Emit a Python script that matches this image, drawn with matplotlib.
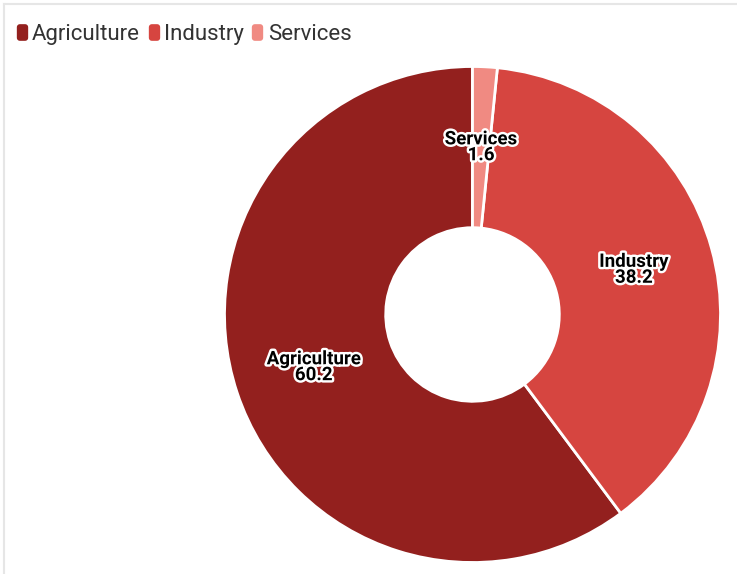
import numpy as np
import matplotlib.pyplot as plt
import matplotlib.patheffects as pe
from matplotlib.lines import Line2D
from matplotlib.path import Path

sectors = ["Agriculture", "Industry", "Services"]
shares = [60.2, 38.2, 1.6]
colors = ["#93201e", "#d64540", "#f08a82"]

W, H = 737, 574
fig = plt.figure(figsize=(W / 100, H / 100), dpi=100)

# thin grey frame along the top and left edges
fig.add_artist(Line2D([3.5 / W, 3.5 / W], [0, 1 - 3.5 / H], color="#e6e6e6", lw=1.5))
fig.add_artist(Line2D([3.5 / W, 1], [1 - 3.5 / H, 1 - 3.5 / H], color="#e6e6e6", lw=1.5))

cx, cy, r = 472.5, 314.5, 248
ax = fig.add_axes([(cx - r) / W, (H - cy - r) / H, 2 * r / W, 2 * r / H])
ring = 0.65
wedges, _ = ax.pie(shares, colors=colors, startangle=90, counterclock=True,
                   radius=1.0,
                   wedgeprops=dict(width=ring, edgecolor="white", linewidth=2))
ax.set_aspect("equal")
ax.set_xlim(-1, 1)
ax.set_ylim(-1, 1)

start = 90.0
label_r = 1 - ring / 2
for name, val in zip(sectors, shares):
    mid = np.deg2rad(start + val * 3.6 / 2)
    start += val * 3.6
    ax.text(label_r * np.cos(mid), label_r * np.sin(mid), f"{name}\n{val}",
            ha="center", va="center", fontsize=13.5, fontweight="bold",
            family="Roboto", color="black", linespacing=0.85,
            path_effects=[pe.withStroke(linewidth=3.5, foreground="white")])


def rounded_rect(w, h, rad, n=6):
    # closed outline of a rectangle with rounded corners, centred on 0
    pts = []
    for (x0, y0, a0) in [(w / 2 - rad, h / 2 - rad, 0), (-w / 2 + rad, h / 2 - rad, 90),
                         (-w / 2 + rad, -h / 2 + rad, 180), (w / 2 - rad, -h / 2 + rad, 270)]:
        for t in np.linspace(a0, a0 + 90, n):
            pts.append((x0 + rad * np.cos(np.deg2rad(t)), y0 + rad * np.sin(np.deg2rad(t))))
    pts.append(pts[0])
    return Path(pts, closed=True)


swatch = rounded_rect(0.68, 1.0, 0.18)
handles = [Line2D([], [], marker=swatch, linestyle="none", markersize=12,
                  markerfacecolor=c, markeredgecolor=c, markeredgewidth=0) for c in colors]
fig.legend(handles, sectors, loc="upper left", bbox_to_anchor=(16 / W, 1 - 24 / H),
           ncol=3, frameon=False, handletextpad=0.22, columnspacing=0.36,
           handlelength=0.5, borderaxespad=0, borderpad=0,
           prop=dict(family="Roboto", size=16), labelcolor="#333333")

fig.savefig("out.png", dpi=100)
